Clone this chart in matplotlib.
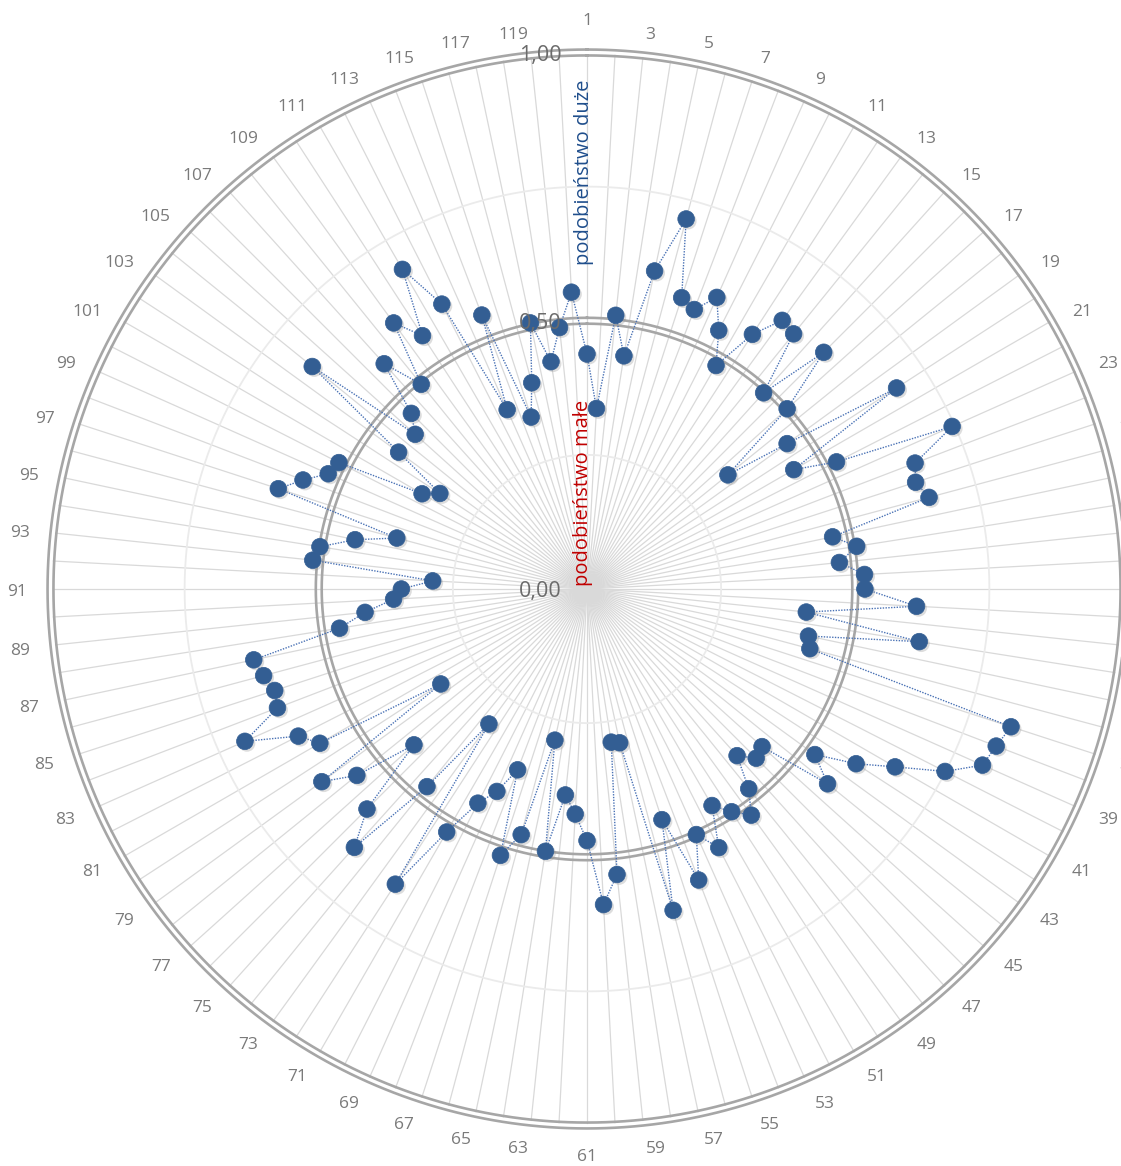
import numpy as np
import matplotlib
matplotlib.use("Agg")
import matplotlib.pyplot as plt
import matplotlib.patheffects as pe
from matplotlib.transforms import offset_copy

plt.rcParams['font.family'] = ['Open Sans', 'DejaVu Sans']

# ---------------- data ----------------
categories = list(range(1, 121))
values = [
    0.438, 0.337, 0.513, 0.440, 0.606, 0.714, 0.571, 0.558, 0.595, 0.541,
    0.481, 0.566, 0.619, 0.612, 0.492, 0.624, 0.502, 0.338, 0.461, 0.688,
    0.445, 0.522, 0.745, 0.655, 0.644, 0.660, 0.468, 0.509, 0.473, 0.518,
    0.518, 0.615, 0.411, 0.627, 0.422, 0.430, 0.831, 0.817, 0.807, 0.749,
    0.663, 0.598, 0.525, 0.577, 0.439, 0.446, 0.418, 0.479, 0.521, 0.495,
    0.466, 0.541, 0.501, 0.581, 0.452, 0.620, 0.293, 0.289, 0.535, 0.589,
    0.469, 0.420, 0.386, 0.495, 0.288, 0.474, 0.522, 0.361, 0.413, 0.448,
    0.523, 0.656, 0.311, 0.474, 0.648, 0.580, 0.434, 0.552, 0.611, 0.325,
    0.575, 0.604, 0.698, 0.618, 0.612, 0.624, 0.635, 0.467, 0.416, 0.361,
    0.346, 0.288, 0.514, 0.504, 0.442, 0.367, 0.605, 0.567, 0.528, 0.519,
    0.355, 0.327, 0.434, 0.659, 0.431, 0.463, 0.565, 0.491, 0.613, 0.563,
    0.688, 0.596, 0.366, 0.547, 0.337, 0.398, 0.507, 0.429, 0.490, 0.554,
]
shown_labels = [str(c) for c in categories if c % 2 == 1]
radial_ticks = [0.0, 0.5, 1.0]
radial_labels = ["0,00", "0,50", "1,00"]
light_rings = [0.25, 0.75]
label_big = "podobieństwo duże"
label_small = "podobieństwo małe"

# ---------------- figure ----------------
W, H, DPI = 1121, 1166, 100
fig = plt.figure(figsize=(W / DPI, H / DPI), dpi=DPI)
cx, cy_top, R = 587, 589, 536.5
cy = H - cy_top
ax = fig.add_axes([(cx - R) / W, (cy - R) / H, 2 * R / W, 2 * R / H],
                  projection='polar')
ax.set_theta_zero_location('N')
ax.set_theta_direction(-1)
ax.set_ylim(0, 1.0)
ax.grid(False)
ax.spines['polar'].set_visible(False)
ax.set_xticks([])
ax.set_yticks([])
ax.patch.set_alpha(0)

n = len(categories)
theta = np.deg2rad(np.arange(n) * 360.0 / n)
full = np.linspace(0, 2 * np.pi, 721)

# spokes
for t in theta:
    ax.plot([t, t], [0, 0.996], color='#D9D9D9', lw=0.9, zorder=1, clip_on=False)

# light rings
for rr in light_rings:
    ax.plot(full, np.full_like(full, rr), color='#EBEBEB', lw=1.3, zorder=1)

# double rings at 0.5 and 1.0
for rr in [0.5, 1.0]:
    for d in (-0.0055, 0.0055):
        ax.plot(full, np.full_like(full, rr + d), color='#A6A6A6', lw=1.9,
                zorder=2, clip_on=False)

# series line (closed, dotted)
th_c = np.append(theta, theta[0])
v_c = np.append(values, values[0])
ax.plot(th_c, v_c, color='#4A72B5', lw=1.0, ls=(0, (1, 1)), zorder=3,
        clip_on=False)
# markers with shadow
ax.plot(theta, values, 'o', ms=12, color='#335E93', mec='#335E93', mew=0.5,
        zorder=4, clip_on=False,
        path_effects=[pe.SimplePatchShadow(offset=(1.5, -1.5),
                                           shadow_rgbFace='#8f8f8f', alpha=0.3),
                      pe.Normal()])

# category labels (odd only)
r_lab = 560 / R
tr_lab = offset_copy(ax.transData, fig=fig, x=0, y=-3, units='dots')
for c, t in zip(categories, theta):
    if c % 2 == 0:
        continue
    s, co = np.sin(t), np.cos(t)
    if abs(s) < 0.02:
        ha = 'center'
        va = 'bottom' if co > 0 else 'top'
        trn = ax.transData
    else:
        ha = 'left' if s > 0 else 'right'
        va = 'center'
        trn = tr_lab
    ax.text(t, r_lab, str(c), ha=ha, va=va, fontsize=12.5, color='#7A7A7A',
            clip_on=False, zorder=5, transform=trn)

# radial labels
tr = offset_copy(ax.transData, fig=fig, x=-25, y=-3, units='dots')
for v, lab in zip(radial_ticks, radial_labels):
    ax.text(0, v, lab, transform=tr, ha='right', va='center', fontsize=15.5,
            color='#6B6B6B', zorder=5, clip_on=False)

# rotated annotations
fig.text(584 / W, 1 - 172 / H, label_big, rotation=90, ha='center', va='center',
         fontsize=14.5, color='#1F4E8C')
fig.text(583 / W, 1 - 493 / H, label_small, rotation=90, ha='center', va='center',
         fontsize=14.5, color='#C00000')

fig.savefig('out.png', dpi=DPI, facecolor='white')
